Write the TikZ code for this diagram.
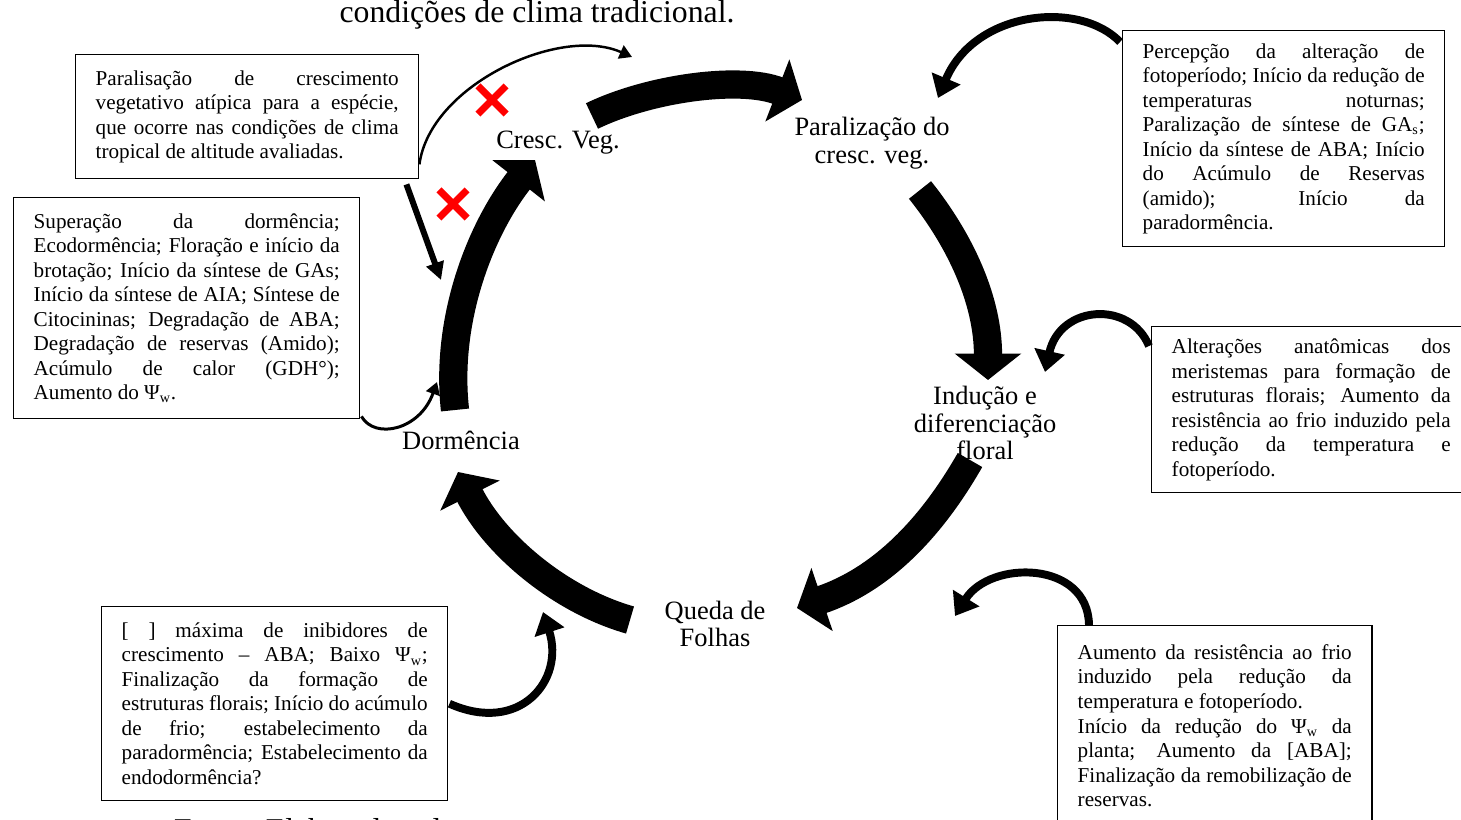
\documentclass[tikz,border=0pt]{standalone}
\usepackage{fontspec}
\setmainfont{Liberation Serif}
\usetikzlibrary{calc,arrows.meta,shapes.misc}
\tolerance=10000
\hyphenpenalty=10000
\parindent=0pt

\begin{document}
\begin{tikzpicture}[x=0.567pt, y=-0.567pt,
    box/.style={draw, line width=0.8pt, anchor=north west, align=justify, inner xsep=11.34pt, inner ysep=0pt, font=\fontsize{12}{13.9}\selectfont},
    stage/.style={align=center, font=\fontsize{15}{15.6}\selectfont},
    bigarrow/.style={line width=16pt, -{Triangle[length=15pt, width=37pt]}},
    thinarrow/.style={line width=#1, -{Triangle[length=7pt, width=8pt]}},
    fatarrow/.style={line width=4.5pt, -{Triangle[length=12pt, width=17pt]}},
    nope/.style={cross out, draw=red, line width=4pt, minimum size=12pt, inner sep=0pt}]

    \useasboundingbox (0,0) rectangle (1461,820);
    \clip (0,0) rectangle (1461,820);

    \node (tit) [anchor=base, font=\fontsize{18}{20}\selectfont] at (537,23) {condições de clima tradicional.};
    \node (fonte) [anchor=base west, font=\fontsize{18}{20}\selectfont] at (168,840) {Fonte: Elaborada pelo autor};

    \node (cv) [stage] at (558,143) {Cresc. Veg.};
    \node (pcv) [stage] at (872,143) {Paralização do\\cresc. veg.};
    \node (idf) [stage] at (985,423) {Indução e\\diferenciação\\floral};
    \node (qf) [stage] at (715,624) {Queda de\\Folhas};
    \node (dorm) [stage] at (461,440) {Dormência};

    \node (paral) [box, text width=171.8pt, minimum height=70.3pt] at (75,54) {Paralisação de crescimento\linebreak vegetativo atípica para a espécie,\linebreak que ocorre nas condições de clima\linebreak tropical de altitude avaliadas.};
    \node (super) [box, text width=173.5pt, minimum height=125.3pt] at (13,197) {Superação da dormência;\linebreak Ecodormência; Floração e início da\linebreak brotação; Início da síntese de GAs;\linebreak Início da síntese de AIA; Síntese de\linebreak Citocininas; Degradação de ABA;\linebreak Degradação de reservas (Amido);\linebreak Acúmulo de calor (GDH°);\linebreak Aumento do Ψ\textsubscript{w}.};
    \node (percep) [box, text width=159.9pt, minimum height=122.5pt] at (1122,30) {Percepção da alteração de\linebreak fotoperíodo; Início da redução de\linebreak temperaturas noturnas;\linebreak Paralização de síntese de GA\textsubscript{s};\linebreak Início da síntese de ABA; Início\linebreak do Acúmulo de Reservas\linebreak (amido); Início da\linebreak paradormência.};
    \node (alter) [box, text width=158.2pt, minimum height=94.1pt] at (1151,326) {Alterações anatômicas dos\linebreak meristemas para formação de\linebreak estruturas florais; Aumento da\linebreak resistência ao frio induzido pela\linebreak redução da temperatura e\linebreak fotoperíodo.};
    \node (maxima) [box, text width=173.5pt, minimum height=110pt] at (101,606) {[\ ] máxima de inibidores de\linebreak crescimento – ABA; Baixo Ψ\textsubscript{w};\linebreak Finalização da formação de\linebreak estruturas florais; Início do acúmulo\linebreak de frio; estabelecimento da\linebreak paradormência; Estabelecimento da\linebreak endodormência?};
    \node (aument) [box, text width=155.4pt, minimum height=113.4pt] at (1057,625) {Aumento da resistência ao frio\linebreak induzido pela redução da\linebreak temperatura e fotoperíodo.\\Início da redução do Ψ\textsubscript{w} da\linebreak planta; Aumento da [ABA];\linebreak Finalização da remobilização de\linebreak reservas.};

    \draw [bigarrow] ($(cv)+(34,-27)$) .. controls (650,88) and (740,76) .. ($(pcv)+(-70,-43)$);
    \draw [bigarrow] ($(pcv)+(48,47)$) .. controls (960,240) and (988,300) .. ($(idf)+(3,-43)$);
    \draw [bigarrow] ($(idf)+(-15,37)$) .. controls (930,530) and (880,580) .. ($(qf)+(82,-16)$);
    \draw [bigarrow] ($(qf)+(-85,-4)$) .. controls (560,600) and (495,545) .. ($(dorm)+(-3,32)$);
    \draw [bigarrow] ($(dorm)+(-6,-30)$) .. controls (445,320) and (480,230) .. ($(cv)+(-23,17)$);

    \draw [thinarrow=1.4pt] ($(paral.south east)+(0,-15)$) .. controls (430,85) and (560,25) .. ($(cv)+(74,-86)$);
    \draw [line width=3.4pt, -{Triangle[length=10pt, width=10pt]}] ($(paral.south east)+(-13,5)$) -- ($(dorm)+(-20,-160)$);
    \node (x1) [nope] at (492,100) {};
    \node (x2) [nope] at (453,204) {};

    \draw [thinarrow=1.7pt] ($(super.south east)+(1,-3)$) .. controls (375,440) and (420,430) .. ($(dorm)+(-24,-58)$);
    \draw [fatarrow] ($(percep.north west)+(-2,12)$) .. controls (1080,0) and (975,10) .. ($(pcv)+(66,-45)$);
    \draw [fatarrow] ($(alter.north west)+(-2,20)$) .. controls (1130,300) and (1060,305) .. ($(idf)+(60,-51)$);
    \draw [fatarrow] ($(aument.north west)+(32,0)$) .. controls (1088,560) and (990,560) .. ($(qf)+(240,-8)$);
    \draw [fatarrow] ($(maxima.east)+(1,0)$) .. controls (520,735) and (565,680) .. ($(qf)+(-172,-12)$);
\end{tikzpicture}
\end{document}
